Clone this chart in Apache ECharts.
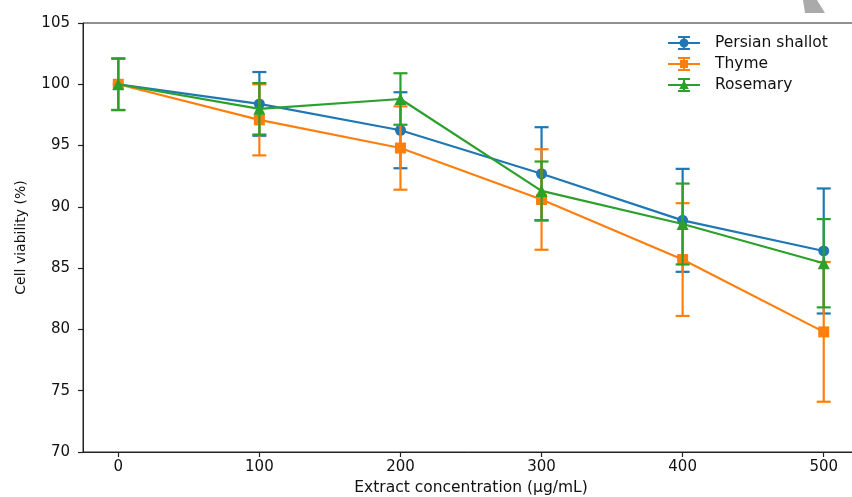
<!DOCTYPE html>
<html>
<head>
<meta charset="utf-8">
<script src="https://cdn.jsdelivr.net/npm/echarts@6/dist/echarts.min.js"></script>
<style>
html,body{margin:0;padding:0;background:#fff;}
#chart{width:852px;height:497px;}
</style>
</head>
<body>
<div id="chart"></div>
<script>
// ---- data ----
const concentrations = [0, 100, 200, 300, 400, 500];
const xTicks = [0, 100, 200, 300, 400, 500];
const yTicks = [70, 75, 80, 85, 90, 95, 100, 105];

const shallotMean = [100, 98.4, 96.25, 92.7, 88.9, 86.4];
const shallotErr  = [2.1, 2.6, 3.1, 3.8, 4.2, 5.1];
const thymeMean   = [100, 97.1, 94.8, 90.6, 85.7, 79.8];
const thymeErr    = [2.1, 2.9, 3.4, 4.1, 4.6, 5.7];
const rosemaryMean = [100, 98.0, 98.8, 91.3, 88.6, 85.4];
const rosemaryErr  = [2.1, 2.1, 2.1, 2.4, 3.3, 3.6];

const names = ['Persian shallot', 'Thyme', 'Rosemary'];
const colors = ['#1f77b4', '#ff7f0e', '#2ca02c'];
const means = [shallotMean, thymeMean, rosemaryMean];
const errs = [shallotErr, thymeErr, rosemaryErr];
const symbols = ['circle', 'rect', 'triangle'];
const symbolSizes = [11, 11, 12];

const bars = 'M0 6 L32 6 L32 8 L0 8 Z M15 0 L17 0 L17 14 L15 14 Z M10 0 L22 0 L22 2 L10 2 Z M10 12 L22 12 L22 14 L10 14 Z ';
const icons = [
  'path://' + bars + 'M20.5 7 A4.5 4.5 0 1 1 11.5 7 A4.5 4.5 0 1 1 20.5 7 Z',
  'path://' + bars + 'M12 3 L20 3 L20 11 L12 11 Z',
  'path://' + bars + 'M16 2 L20.8 11 L11.2 11 Z'
];

const chart = echarts.init(document.getElementById('chart'), null, {renderer: 'canvas'});

const series = [];
names.forEach((name, i) => {
  const errData = concentrations.map((c, k) => [c, means[i][k] - errs[i][k], means[i][k] + errs[i][k]]);
  series.push({
    name: name + ' error',
    type: 'custom',
    z: 2 + i * 2,
    silent: true,
    data: errData,
    encode: {x: 0, y: [1, 2]},
    renderItem: function (params, api) {
      const x = api.value(0);
      const lo = api.coord([x, api.value(1)]);
      const hi = api.coord([x, api.value(2)]);
      const cap = 7;
      const style = {stroke: colors[i], lineWidth: 2.2, fill: null};
      return {
        type: 'group',
        children: [
          {type: 'line', shape: {x1: lo[0], y1: lo[1], x2: hi[0], y2: hi[1]}, style: style},
          {type: 'line', shape: {x1: lo[0] - cap, y1: lo[1], x2: lo[0] + cap, y2: lo[1]}, style: style},
          {type: 'line', shape: {x1: hi[0] - cap, y1: hi[1], x2: hi[0] + cap, y2: hi[1]}, style: style}
        ]
      };
    }
  });
  series.push({
    name: name,
    type: 'line',
    z: 3 + i * 2,
    data: concentrations.map((c, k) => [c, means[i][k]]),
    symbol: symbols[i],
    symbolSize: symbolSizes[i],
    showAllSymbol: true,
    color: colors[i],
    lineStyle: {color: colors[i], width: 2.2},
    itemStyle: {color: colors[i]},
    emphasis: {disabled: true},
    animation: false
  });
});

const font = 'DejaVu Sans';

chart.setOption({
  animation: false,
  backgroundColor: '#fff',
  grid: {
    left: 83, top: 23, width: 776, height: 429,
    outerBoundsMode: 'none', containLabel: false,
    show: true, borderColor: '#222', borderWidth: 1, backgroundColor: 'transparent'
  },
  legend: {
    orient: 'vertical',
    left: 668, top: 35, padding: 0,
    itemWidth: 32, itemHeight: 14, itemGap: 5,
    selectedMode: false,
    textStyle: {fontFamily: font, fontSize: 15.5, color: '#111', padding: [0, 0, 0, 10]},
    data: names.map((n, i) => ({name: n, icon: icons[i], itemStyle: {color: colors[i]}}))
  },
  xAxis: {
    type: 'value',
    min: -25, max: 525,
    name: 'Extract concentration (μg/mL)',
    nameLocation: 'middle',
    nameGap: 27,
    nameTextStyle: {fontFamily: font, fontSize: 15.5, color: '#111'},
    splitLine: {show: false},
    axisLine: {show: true, onZero: false, lineStyle: {color: '#222', width: 1}},
    axisTick: {show: true, length: 5, inside: false, lineStyle: {color: '#222', width: 1.2}, customValues: xTicks},
    axisLabel: {fontFamily: font, fontSize: 15, color: '#111', margin: 8, customValues: xTicks}
  },
  yAxis: {
    type: 'value',
    min: 70, max: 105, interval: 5,
    name: 'Cell viability (%)',
    nameLocation: 'middle',
    nameGap: 55,
    nameRotate: 90,
    nameTextStyle: {fontFamily: font, fontSize: 14, color: '#111'},
    splitLine: {show: false},
    axisLine: {show: true, onZero: false, lineStyle: {color: '#222', width: 1}},
    axisTick: {show: true, length: 5, inside: false, lineStyle: {color: '#222', width: 1.2}, customValues: yTicks},
    axisLabel: {fontFamily: font, fontSize: 15, color: '#111', margin: 13, customValues: yTicks}
  },
  graphic: [{
    type: 'polygon',
    silent: true,
    shape: {points: [[803, 0], [817, 0], [825, 13], [805, 13]]},
    style: {fill: '#aaaaaa'}
  }],
  series: series
});
</script>
</body>
</html>
